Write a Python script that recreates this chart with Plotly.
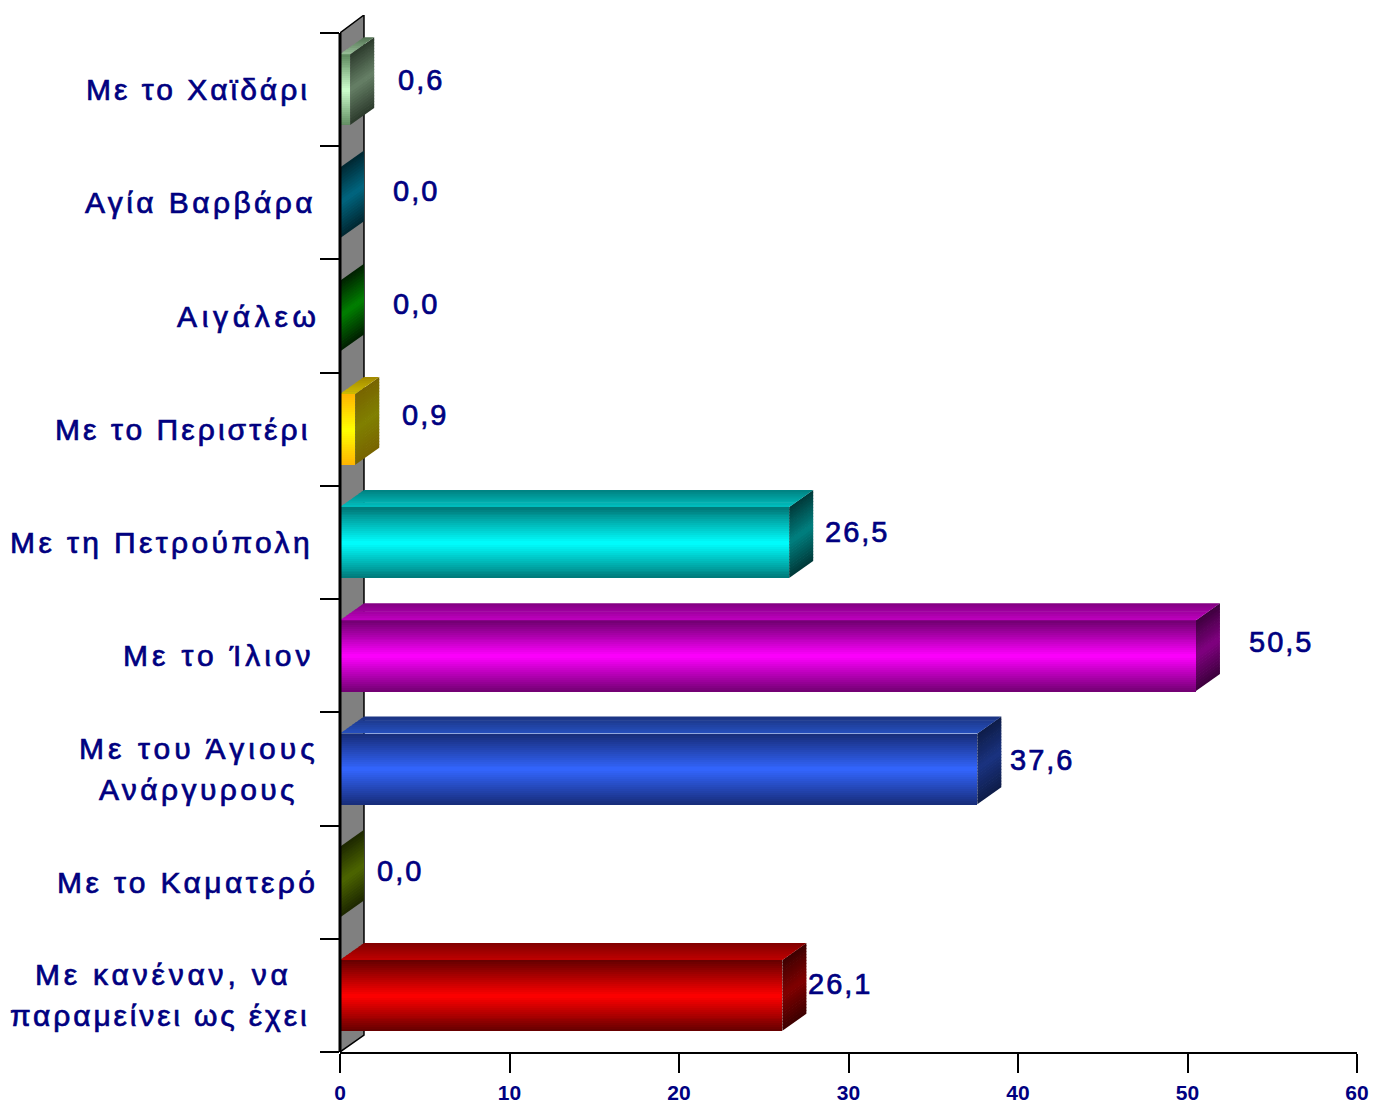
import plotly.graph_objects as go

# ---- data (bottom to top) ----
category_lines = [
    ["Με κανέναν, να", "παραμείνει ως έχει"],
    ["Με το Καματερό"],
    ["Με του Άγιους", "Ανάργυρους"],
    ["Με το Ίλιον"],
    ["Με τη Πετρούπολη"],
    ["Με το Περιστέρι"],
    ["Αιγάλεω"],
    ["Αγία Βαρβάρα"],
    ["Με το Χαϊδάρι"],
]
values = [26.1, 0.0, 37.6, 50.5, 26.5, 0.9, 0.0, 0.0, 0.6]
value_labels = ["26,1", "0,0", "37,6", "50,5", "26,5", "0,9", "0,0", "0,0", "0,6"]
x_ticks = [0, 10, 20, 30, 40, 50, 60]

# ---- styles ----
front_edge = ["#640000", "#3a4d00", "#172c78", "#700070", "#007878", "#FFB400", "#003a00", "#00303f", "#5f8a5f"]
front_mid = ["#FF0000", "#4D6600", "#3366FF", "#FF00FF", "#00FFFF", "#FFFF00", "#008000", "#006680", "#CCFFCC"]
side_edge = ["#3c0000", "#1c2600", "#0e1c48", "#3c003c", "#003838", "#786400", "#001e00", "#002630", "#2c3a2c"]
side_mid = ["#800000", "#4D6600", "#1A3380", "#800080", "#008080", "#808000", "#008000", "#006680", "#668066"]
top_back = ["#800000", "#4D6600", "#1A3380", "#800080", "#008080", "#A08800", "#008000", "#006680", "#507050"]
top_front = ["#C00000", "#4D6600", "#2650C0", "#C000C0", "#00C0C0", "#D0BC00", "#008000", "#006680", "#99BF99"]
label_center_px = [[162.5, 159], [187], [198, 197.5], [218], [161], [182], [248], [200], [197]]
label_spacing_px = [[3.8, 2.85], [3.4], [4.1, 3.4], [3.95], [3.4], [3.07], [4.7], [3.4], [3.0]]
value_dx_px = [58, 60, 65, 85, 68, 70, 76, 76, 71]
value_dy_px = [-11, -11, -9, -14, -11, -14.5, -12, -12, -10]

W, H = 1374, 1106
L, R, T, B = 339.5, 1357, 33, 1052.5
WALL_TOP = 15
NAVY = "#000080"
FONT = "Liberation Sans"
px_x = (R - L) / 60
px_y = (B - T) / 9
DX = 24 / px_x          # depth of the 3D effect in axis units
DY = 17 / px_y
WALL_DY = (T - WALL_TOP) / px_y
BAR_H = 0.625


def rgb(c):
    return tuple(int(c[i:i + 2], 16) for i in (1, 3, 5))


def mix(a, b, t):
    a, b = rgb(a), rgb(b)
    return "#%02x%02x%02x" % tuple(round(a[i] + (b[i] - a[i]) * t) for i in range(3))


def profile(t):
    """0 at both edges of a face, 1 in the centre."""
    return 1 - abs(2 * t - 1)


fig = go.Figure()


def poly(xs, ys, color):
    fig.add_trace(go.Scatter(
        x=xs, y=ys, mode="none", fill="toself", fillcolor=color,
        hoverinfo="skip", showlegend=False))


# front faces: one bar trace per gradient band
N_SIDE, N_TOP, N_FRONT = 24, 8, 36
for k in range(N_FRONT):
    fig.add_trace(go.Bar(
        x=values, y=list(range(len(values))), orientation="h",
        base=0, width=BAR_H / N_FRONT,
        offset=-BAR_H / 2 + BAR_H * k / N_FRONT,
        marker=dict(color=[mix(e, m, profile((k + .5) / N_FRONT)) for e, m in zip(front_edge, front_mid)],
                    line=dict(width=0)),
        hoverinfo="skip", showlegend=False))

for i, v in enumerate(values):
    lo, hi = i - BAR_H / 2, i + BAR_H / 2
    # side face
    for k in range(N_SIDE):
        t0, t1 = k / N_SIDE, (k + 1.3) / N_SIDE
        y0, y1 = lo + (hi - lo) * t0, min(hi, lo + (hi - lo) * t1)
        c = mix(side_edge[i], side_mid[i], profile((k + .5) / N_SIDE))
        poly([v, v + DX, v + DX, v, v], [y0, y0 + DY, y1 + DY, y1, y0], c)
    # top face
    if v > 0:
        for k in range(N_TOP):
            d0, d1 = DY * k / N_TOP, min(DY, DY * (k + 1.3) / N_TOP)
            c = mix(top_front[i], top_back[i], (k + .5) / N_TOP)
            s0, s1 = d0 / DY * DX, d1 / DY * DX
            poly([s0, v + s0, v + s1, s1, s0], [hi + d0, hi + d0, hi + d1, hi + d1, hi + d0], c)

annotations = []
LINE_GAP = 41
TEXT_CSS = "letter-spacing:{}px;stroke:#000080;stroke-width:{}px"
for i, lines in enumerate(category_lines):
    for j, line in enumerate(lines):
        shift = (len(lines) - 1) / 2 * LINE_GAP - j * LINE_GAP
        annotations.append(dict(
            x=(label_center_px[i][j] - L) / (R - L), xref="paper", y=i, yref="y", yshift=shift,
            xanchor="center", yanchor="middle", showarrow=False,
            text=f'<span style="{TEXT_CSS.format(label_spacing_px[i][j], 0.7)}">{line}</span>',
            font=dict(family=FONT, size=30, color=NAVY)))
for i, (v, lab) in enumerate(zip(values, value_labels)):
    annotations.append(dict(
        x=v, xref="x", y=i, yref="y", xshift=value_dx_px[i], yshift=-value_dy_px[i],
        xanchor="center", yanchor="middle", showarrow=False,
        text=f'<span style="{TEXT_CSS.format(2, 0.7)}">{lab}</span>',
        font=dict(family=FONT, size=29, color=NAVY)))

wall_path = f"M 0,-0.5 L {DX},{-0.5 + DY} L {DX},{8.5 + WALL_DY} L 0,8.5 Z"
axis_top = 9 / (9 + WALL_DY)

fig.update_layout(
    width=W, height=H, barmode="overlay", bargap=0,
    margin=dict(l=L, r=W - R, t=WALL_TOP, b=H - B, pad=0, autoexpand=False),
    paper_bgcolor="white", plot_bgcolor="white", showlegend=False,
    annotations=annotations,
    shapes=[
        dict(type="path", path=wall_path, xref="x", yref="y", layer="below",
             fillcolor="#808080", line=dict(color="black", width=1.5)),
        dict(type="line", xref="paper", yref="paper", x0=0, x1=0, y0=0, y1=axis_top, layer="above",
             line=dict(color="#000000", width=3)),
    ],
    xaxis=dict(range=[0, 60], tickvals=x_ticks, ticks="outside", ticklen=19, tickwidth=2, tickcolor="black",
               showline=True, linecolor="black", linewidth=2, showgrid=False, zeroline=False, automargin=False,
               ticklabelstandoff=2,
               tickfont=dict(family=FONT, size=21, color=NAVY, weight="bold")),
    yaxis=dict(range=[-0.5, 8.5 + WALL_DY], tickvals=[k - 0.5 for k in range(10)], ticktext=[""] * 10,
               ticks="outside", ticklen=19, tickwidth=2, tickcolor="black", automargin=False,
               showline=False, showgrid=False, zeroline=False),
)

fig.write_html("out.html", config=dict(displayModeBar=False),
               post_script="document.body.style.margin='0';")
